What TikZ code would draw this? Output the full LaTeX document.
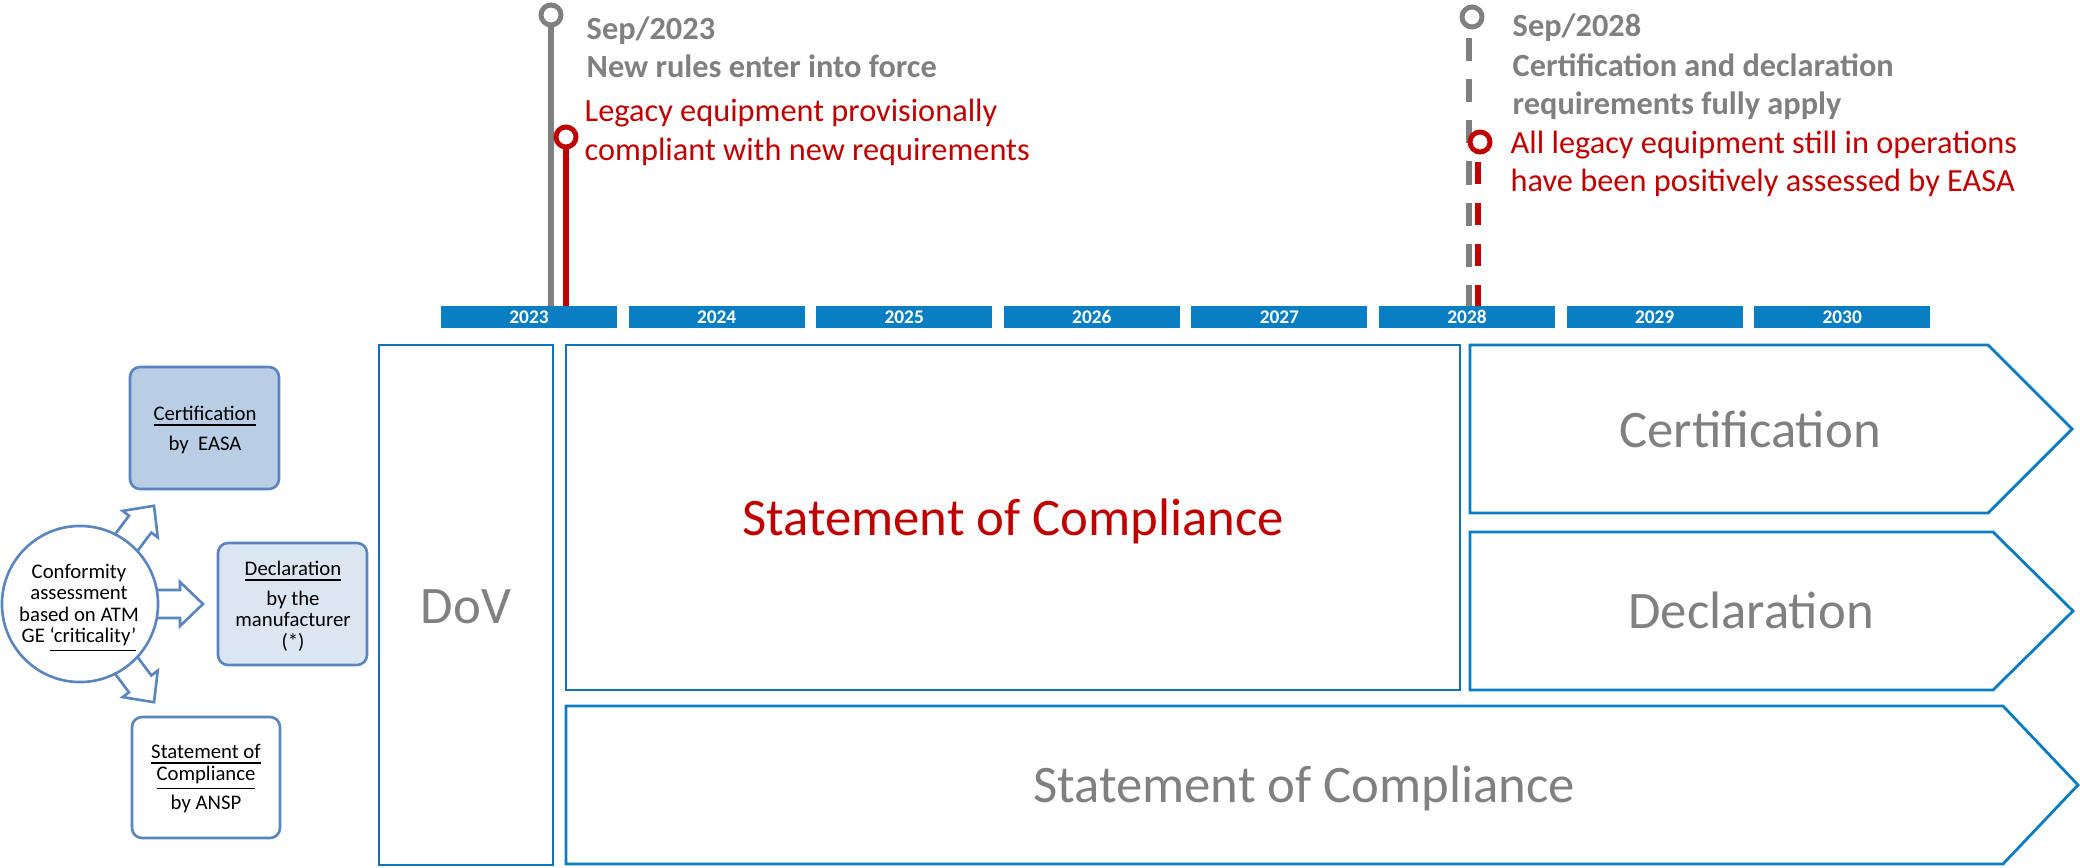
\documentclass[tikz,border=0pt]{standalone}
\usepackage{fontspec}
\setmainfont{Carlito}
\definecolor{tlblue}{HTML}{1172BA}
\definecolor{arblue}{HTML}{0A7CC4}
\definecolor{barblue}{HTML}{0A7EC2}
\definecolor{lblue}{HTML}{5A85BF}
\definecolor{certfill}{HTML}{B9CDE5}
\definecolor{declfill}{HTML}{DCE6F2}
\definecolor{tgray}{HTML}{808080}
\definecolor{tred}{HTML}{C00000}
\begin{document}
\begin{tikzpicture}[x=0.01cm,y=-0.01cm,
  yearbar/.style={fill=barblue, minimum width=1.76cm, minimum height=0.22cm, inner sep=0pt, text=white, font=\fontsize{5.5}{6}\selectfont\bfseries},
  tlbox/.style={draw=tlblue, line width=0.8pt},
  arbox/.style={draw=arblue, line width=0.8pt},
  bigtxt/.style={anchor=base, inner sep=0pt, font=\fontsize{15}{17}\selectfont, text=tgray},
  stxt/.style={anchor=base, inner sep=0pt, font=\fontsize{5.9}{6.5}\selectfont},
  lbox/.style={draw=lblue, line width=0.75pt, rounded corners=0.1cm},
  hdr/.style={anchor=base west, inner sep=0pt, font=\fontsize{9.2}{10}\selectfont\bfseries, text=tgray},
  rtxt/.style={anchor=base west, inner sep=0pt, font=\fontsize{9.2}{10}\selectfont, text=tred},
  ring/.style={circle, minimum size=0.2cm, inner sep=0pt, line width=1.4pt, fill=white},
  blockarrow/.style={draw=lblue, line width=0.75pt, fill=white, line join=miter}
]
\useasboundingbox (0,0) rectangle (2080,867);

% ---------- timeline markers ----------
\coordinate (g1e) at (551,306);
\coordinate (r1e) at (566,306);
\coordinate (g2s) at (1469,38);
\coordinate (g2e) at (1469,306);
\coordinate (r2s) at (1478,162);
\coordinate (r2e) at (1478,306);
\node[ring, draw=tgray] (m1) at (551,15) {};
\draw[tgray, line width=1.7pt] (m1) -- (g1e);
\node[ring, draw=tred] (m2) at (566,137) {};
\draw[tred, line width=1.7pt] (m2) -- (r1e);
\draw[tgray, line width=1.7pt, dash pattern=on 6.6pt off 5.1pt] (g2s) -- (g2e);
\draw[tred, line width=1.7pt, dash pattern=on 6.3pt off 5.4pt] (r2s) -- (r2e);
\node[ring, draw=tgray] (m3) at (1472,17) {};
\node[ring, draw=tred] (m4) at (1480,142) {};

\node[hdr] (t1a) at (586,40) {Sep/2023};
\node[hdr] (t1b) at (586,78) {New rules enter into force};
\node[rtxt] (t1c) at (584,122) {Legacy equipment provisionally};
\node[rtxt] (t1d) at (584,160) {compliant with new requirements};
\node[hdr] (t2a) at (1512,37) {Sep/2028};
\node[hdr] (t2b) at (1512,77) {Certification and declaration};
\node[hdr] (t2c) at (1512,115) {requirements fully apply};
\node[rtxt] (t2d) at (1510,153) {All legacy equipment still in operations};
\node[rtxt] (t2e) at (1510,192) {have been positively assessed by EASA};

% ---------- year bars ----------
\foreach \yr [count=\i from 0] in {2023,2024,2025,2026,2027,2028,2029,2030}
  \node[yearbar] (y\yr) at ({529+187.6*\i},317) {\yr};

% ---------- timeline boxes ----------
\draw[tlbox] (379,345) rectangle (553,865);
\node[bigtxt] (dov) at (466,623) {DoV};
\draw[tlbox] (566,345) rectangle (1460,690);
\node[bigtxt, text=tred] (soc1) at (1013,535) {Statement of Compliance};
\draw[arbox] (1470,345) -- (1988,345) -- (2072,429) -- (1988,513) -- (1470,513) -- cycle;
\node[bigtxt] (cert) at (1750,447) {Certification};
\draw[arbox] (1470,532) -- (1993,532) -- (2073,611) -- (1993,690) -- (1470,690) -- cycle;
\node[bigtxt] (decl) at (1751,628) {Declaration};
\draw[arbox] (566,706) -- (2003,706) -- (2078,785) -- (2003,864) -- (566,864) -- cycle;
\node[bigtxt] (soc2) at (1304,802) {Statement of Compliance};

% ---------- left legend ----------
\foreach \a in {53,0,-53}{
  \begin{scope}[shift={(80,604)}, rotate=\a]
    \draw[blockarrow] (60,-14) -- (100,-14) -- (100,-22) -- (123,0) -- (100,22) -- (100,14) -- (60,14) -- cycle;
  \end{scope}
}
\node[circle, draw=lblue, fill=white, line width=0.75pt, minimum size=1.56cm, inner sep=0pt] (ca) at (80,604) {};
\node[stxt] (ca1) at (79,578) {Conformity};
\node[stxt] (ca2) at (79,599) {assessment};
\node[stxt] (ca3) at (79,621) {based on ATM};
\node[stxt] (ca4) at (79,642) {GE \underline{‘criticality’}};

\draw[lbox, fill=certfill] (130,367) rectangle (279,489);
\node[stxt] (cb1) at (205,420) {\underline{Certification}};
\node[stxt] (cb2) at (205,450) {by\ \ EASA};

\draw[lbox, fill=declfill] (218,543) rectangle (367,665);
\node[stxt] (db1) at (293,575) {\underline{Declaration}};
\node[stxt] (db2) at (293,605) {by the};
\node[stxt] (db3) at (293,626) {manufacturer};
\node[stxt] (db4) at (293,648) {(*)};

\draw[lbox, fill=white] (132,717) rectangle (280,838);
\node[stxt] (sb1) at (206,758) {\underline{Statement of}};
\node[stxt] (sb2) at (206,780) {\underline{Compliance}};
\node[stxt] (sb3) at (206,809) {by ANSP};
\end{tikzpicture}
\end{document}
